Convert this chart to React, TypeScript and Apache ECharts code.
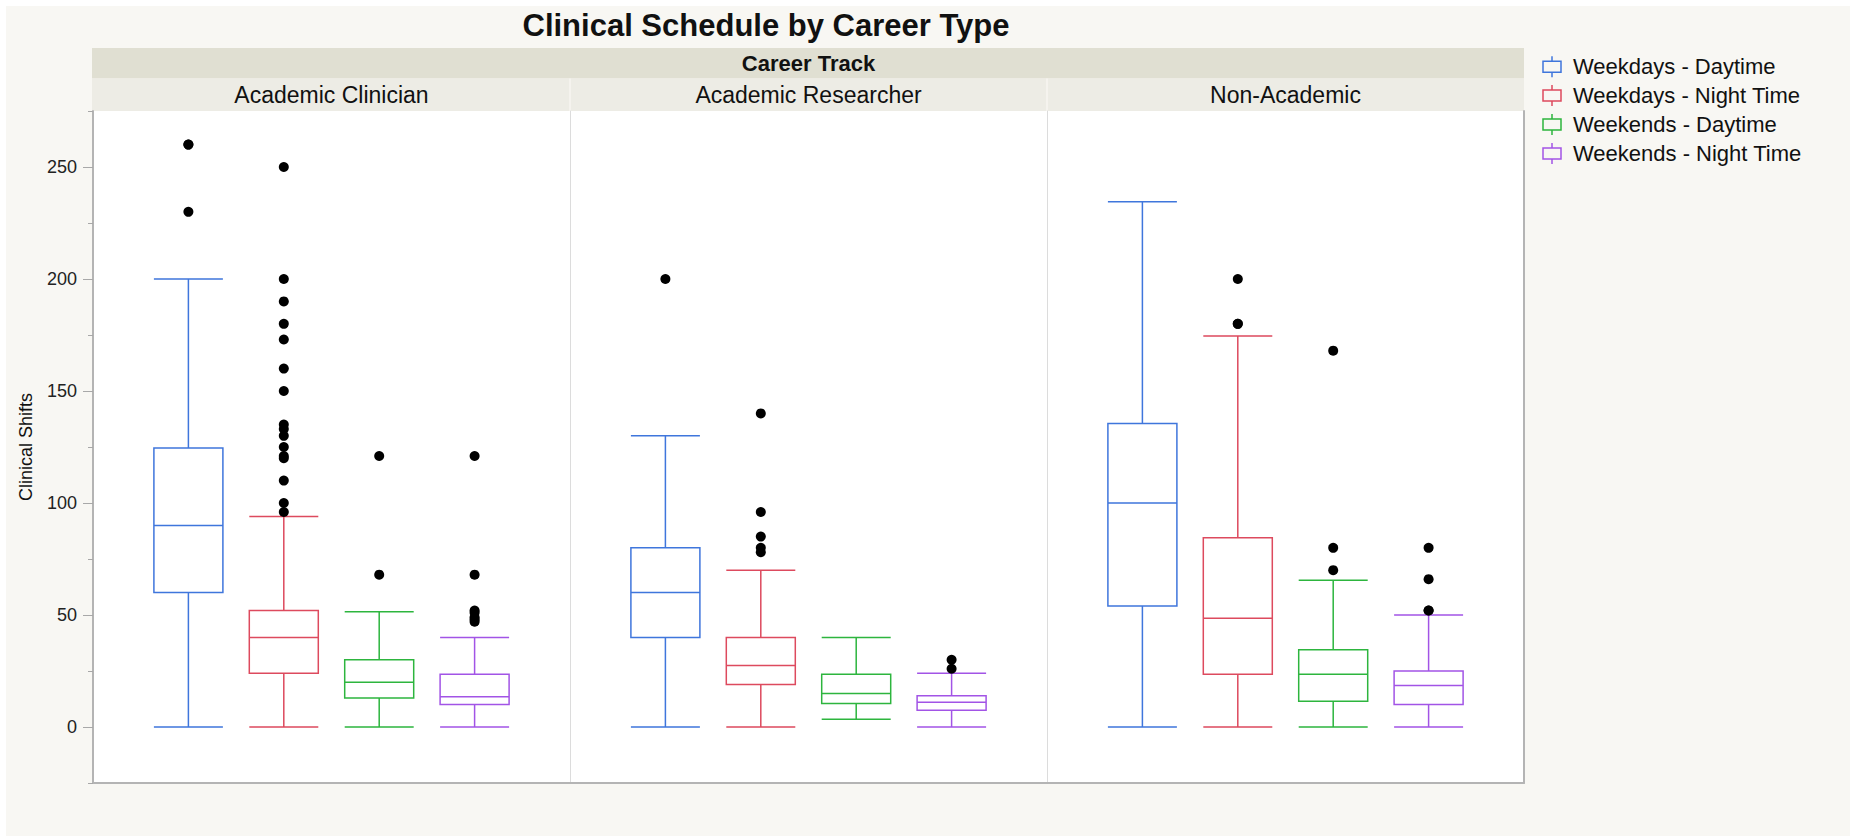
import React, { useEffect, useRef } from 'react';
import * as echarts from 'echarts';

const chartTitle = 'Clinical Schedule by Career Type';
const panelGroupTitle = 'Career Track';
const yAxisTitle = 'Clinical Shifts';
const careerTracks = ['Academic Clinician', 'Academic Researcher', 'Non-Academic'];
const scheduleTypes = ['Weekdays - Daytime', 'Weekdays - Night Time', 'Weekends - Daytime', 'Weekends - Night Time'];
const scheduleColors = ['#3f76dc', '#dd4a5e', '#2db53e', '#a254e6'];
const yTickValues = [0, 50, 100, 150, 200, 250];
const yRange = [-25, 275];

// [min, Q1, median, Q3, max] per schedule type
const academicClinicianBoxes = [
  [0, 60, 90, 124.5, 200],
  [0, 24, 40, 52, 94],
  [0, 13, 20, 30, 51.5],
  [0, 10, 13.5, 23.5, 40],
];
const academicResearcherBoxes = [
  [0, 40, 60, 80, 130],
  [0, 19, 27.5, 40, 70],
  [3.5, 10.5, 15, 23.5, 40],
  [0, 7.5, 11, 14, 24],
];
const nonAcademicBoxes = [
  [0, 54, 100, 135.5, 234.5],
  [0, 23.5, 48.5, 84.5, 174.5],
  [0, 11.5, 23.5, 34.5, 65.5],
  [0, 10, 18.5, 25, 50],
];

const academicClinicianOutliers = [
  [260, 260, 230],
  [250, 200, 190, 180, 173, 160, 150, 135, 133, 130, 125, 121, 120, 110, 100, 96],
  [121, 68],
  [121, 68, 52, 51, 49, 48, 47],
];
const academicResearcherOutliers = [[200], [140, 96, 85, 80, 78], [], [30, 26]];
const nonAcademicOutliers = [[], [200, 180, 180], [168, 80, 70], [80, 66, 52, 52]];

const panelBoxes = [academicClinicianBoxes, academicResearcherBoxes, nonAcademicBoxes];
const panelOutliers = [academicClinicianOutliers, academicResearcherOutliers, nonAcademicOutliers];

const FONT = '"Liberation Sans", Arial, Helvetica, sans-serif';
const FRAME = '#b4b4b4';
const TICK = '#a8a8a8';

function buildOption(): any {
  const plotLeft = 87;
  const plotTop = 105;
  const panelW = 477;
  const plotH = 672;
  const pxPerUnit = plotH / (yRange[1] - yRange[0]);
  const inset = panelW / 10;
  const labelTop = plotTop + (yRange[1] - yTickValues[yTickValues.length - 1]) * pxPerUnit;
  const labelH = (yTickValues[yTickValues.length - 1] - yTickValues[0]) * pxPerUnit;

  const grid: any[] = [];
  const xAxis: any[] = [];
  const yAxis: any[] = [];
  const series: any[] = [];

  // frame grids 0..2
  for (let i = 0; i < 3; i++) {
    grid.push({
      left: plotLeft + i * panelW,
      top: plotTop,
      width: panelW,
      height: plotH,
      show: true,
      backgroundColor: '#ffffff',
      borderWidth: 0,
    });
    xAxis.push({
      type: 'value',
      gridIndex: i,
      min: 0,
      max: 1,
      axisLine: { show: true, onZero: false, lineStyle: { color: FRAME, width: 2 } },
      axisTick: { show: false },
      axisLabel: { show: false },
      splitLine: { show: false },
    });
  }
  // data grids 3..5
  for (let i = 0; i < 3; i++) {
    grid.push({
      left: plotLeft + i * panelW + inset,
      top: plotTop,
      width: panelW - 2 * inset,
      height: plotH,
    });
    xAxis.push({ type: 'category', gridIndex: 3 + i, data: scheduleTypes, show: false });
  }
  // label grid 6
  grid.push({ left: plotLeft, top: labelTop, width: panelW, height: labelH });
  xAxis.push({ type: 'value', gridIndex: 6, show: false, min: 0, max: 1 });

  // y axes
  yAxis.push({
    type: 'value',
    gridIndex: 0,
    min: yRange[0],
    max: yRange[1],
    interval: 25,
    axisLine: { show: true, onZero: false, lineStyle: { color: FRAME, width: 2 } },
    axisTick: { show: true, length: 5, lineStyle: { color: TICK, width: 1 } },
    axisLabel: { show: false },
    splitLine: { show: false },
  });
  for (let i = 1; i < 3; i++) {
    yAxis.push({
      type: 'value',
      gridIndex: i,
      min: yRange[0],
      max: yRange[1],
      axisLine: { show: true, onZero: false, lineStyle: { color: '#dcdcdc', width: 1 } },
      axisTick: { show: false },
      axisLabel: { show: false },
      splitLine: { show: false },
    });
  }
  yAxis.push({
    type: 'value',
    gridIndex: 2,
    position: 'right',
    min: yRange[0],
    max: yRange[1],
    axisLine: { show: true, onZero: false, lineStyle: { color: FRAME, width: 2 } },
    axisTick: { show: false },
    axisLabel: { show: false },
    splitLine: { show: false },
  });
  for (let i = 0; i < 3; i++) {
    yAxis.push({ type: 'value', gridIndex: 3 + i, min: yRange[0], max: yRange[1], show: false });
  }
  yAxis.push({
    type: 'value',
    gridIndex: 6,
    min: yTickValues[0],
    max: yTickValues[yTickValues.length - 1],
    interval: yTickValues[1] - yTickValues[0],
    axisLine: { show: false, onZero: false },
    axisTick: { show: true, length: 10, lineStyle: { color: TICK, width: 1 } },
    axisLabel: { show: true, margin: 16, fontSize: 18, color: '#222', fontFamily: FONT },
    splitLine: { show: false },
  });

  for (let i = 0; i < 3; i++) {
    series.push({
      type: 'boxplot',
      name: careerTracks[i],
      xAxisIndex: 3 + i,
      yAxisIndex: 4 + i,
      boxWidth: [69, 69],
      silent: true,
      emphasis: { disabled: true },
      data: panelBoxes[i].map((b, k) => ({
        value: b,
        itemStyle: { color: 'rgba(255,255,255,0)', borderColor: scheduleColors[k], borderWidth: 1.5 },
      })),
    });
    const pts: number[][] = [];
    panelOutliers[i].forEach((arr, k) => arr.forEach((v) => pts.push([k, v])));
    series.push({
      type: 'scatter',
      name: careerTracks[i] + ' outliers',
      xAxisIndex: 3 + i,
      yAxisIndex: 4 + i,
      symbol: 'circle',
      symbolSize: 10,
      silent: true,
      itemStyle: { color: '#000', opacity: 1 },
      data: pts,
      z: 5,
    });
  }

  const txt = (text: string, x: number, y: number, size: number, weight: string, align: string, extra: any = {}) => ({
    type: 'text',
    x,
    y,
    ...extra,
    style: {
      text,
      fontSize: size,
      fontWeight: weight,
      fontFamily: FONT,
      fill: '#111',
      align,
      verticalAlign: 'middle',
      textAlign: align,
      textVerticalAlign: 'middle',
    },
  });

  const bandLeft = plotLeft - 1;
  const bandW = panelW * 3 + 1;
  const graphic: any[] = [
    { type: 'rect', shape: { x: bandLeft, y: 42, width: bandW, height: 30.5 }, style: { fill: '#e0dfd2' }, silent: true },
    { type: 'rect', shape: { x: bandLeft, y: 72.5, width: bandW, height: 32.5 }, style: { fill: '#edece5' }, silent: true },
    { type: 'line', shape: { x1: plotLeft + panelW, y1: 72.5, x2: plotLeft + panelW, y2: 105 }, style: { stroke: '#f7f6f1', lineWidth: 1.5 }, silent: true },
    { type: 'line', shape: { x1: plotLeft + 2 * panelW, y1: 72.5, x2: plotLeft + 2 * panelW, y2: 105 }, style: { stroke: '#f7f6f1', lineWidth: 1.5 }, silent: true },
    txt(chartTitle, 760, 19.5, 31, 'bold', 'center'),
    txt(panelGroupTitle, plotLeft + 1.5 * panelW, 57.5, 22, 'bold', 'center'),
    ...careerTracks.map((t, i) => txt(t, plotLeft + (i + 0.5) * panelW, 88.5, 23, 'normal', 'center')),
    txt(yAxisTitle, 20, plotTop + plotH / 2, 18, 'normal', 'center', { rotation: Math.PI / 2 }),
  ];

  scheduleTypes.forEach((name, k) => {
    const c = scheduleColors[k];
    graphic.push({
      type: 'group',
      x: 1537,
      y: 60.7 + 28.9 * k,
      children: [
        { type: 'rect', shape: { x: 0, y: -5.5, width: 18, height: 11 }, style: { fill: 'none', stroke: c, lineWidth: 1.5 } },
        { type: 'line', shape: { x1: 9, y1: -10.5, x2: 9, y2: -5.5 }, style: { stroke: c, lineWidth: 1.5 } },
        { type: 'line', shape: { x1: 9, y1: 5.5, x2: 9, y2: 10.5 }, style: { stroke: c, lineWidth: 1.5 } },
        txt(name, 30, 0, 22, 'normal', 'left'),
      ],
    });
  });

  return {
    animation: false,
    backgroundColor: '#f8f7f3',
    textStyle: { fontFamily: FONT },
    grid,
    xAxis,
    yAxis,
    series,
    graphic,
  };
}

export default function App() {
  const ref = useRef<HTMLDivElement>(null);
  useEffect(() => {
    if (!ref.current) return;
    const chart = echarts.init(ref.current, null, { renderer: 'svg' });
    chart.setOption(buildOption());
    return () => chart.dispose();
  }, []);
  return <div ref={ref} style={{ position: 'fixed', left: 6, top: 6, width: 1844, height: 830 }} />;
}
